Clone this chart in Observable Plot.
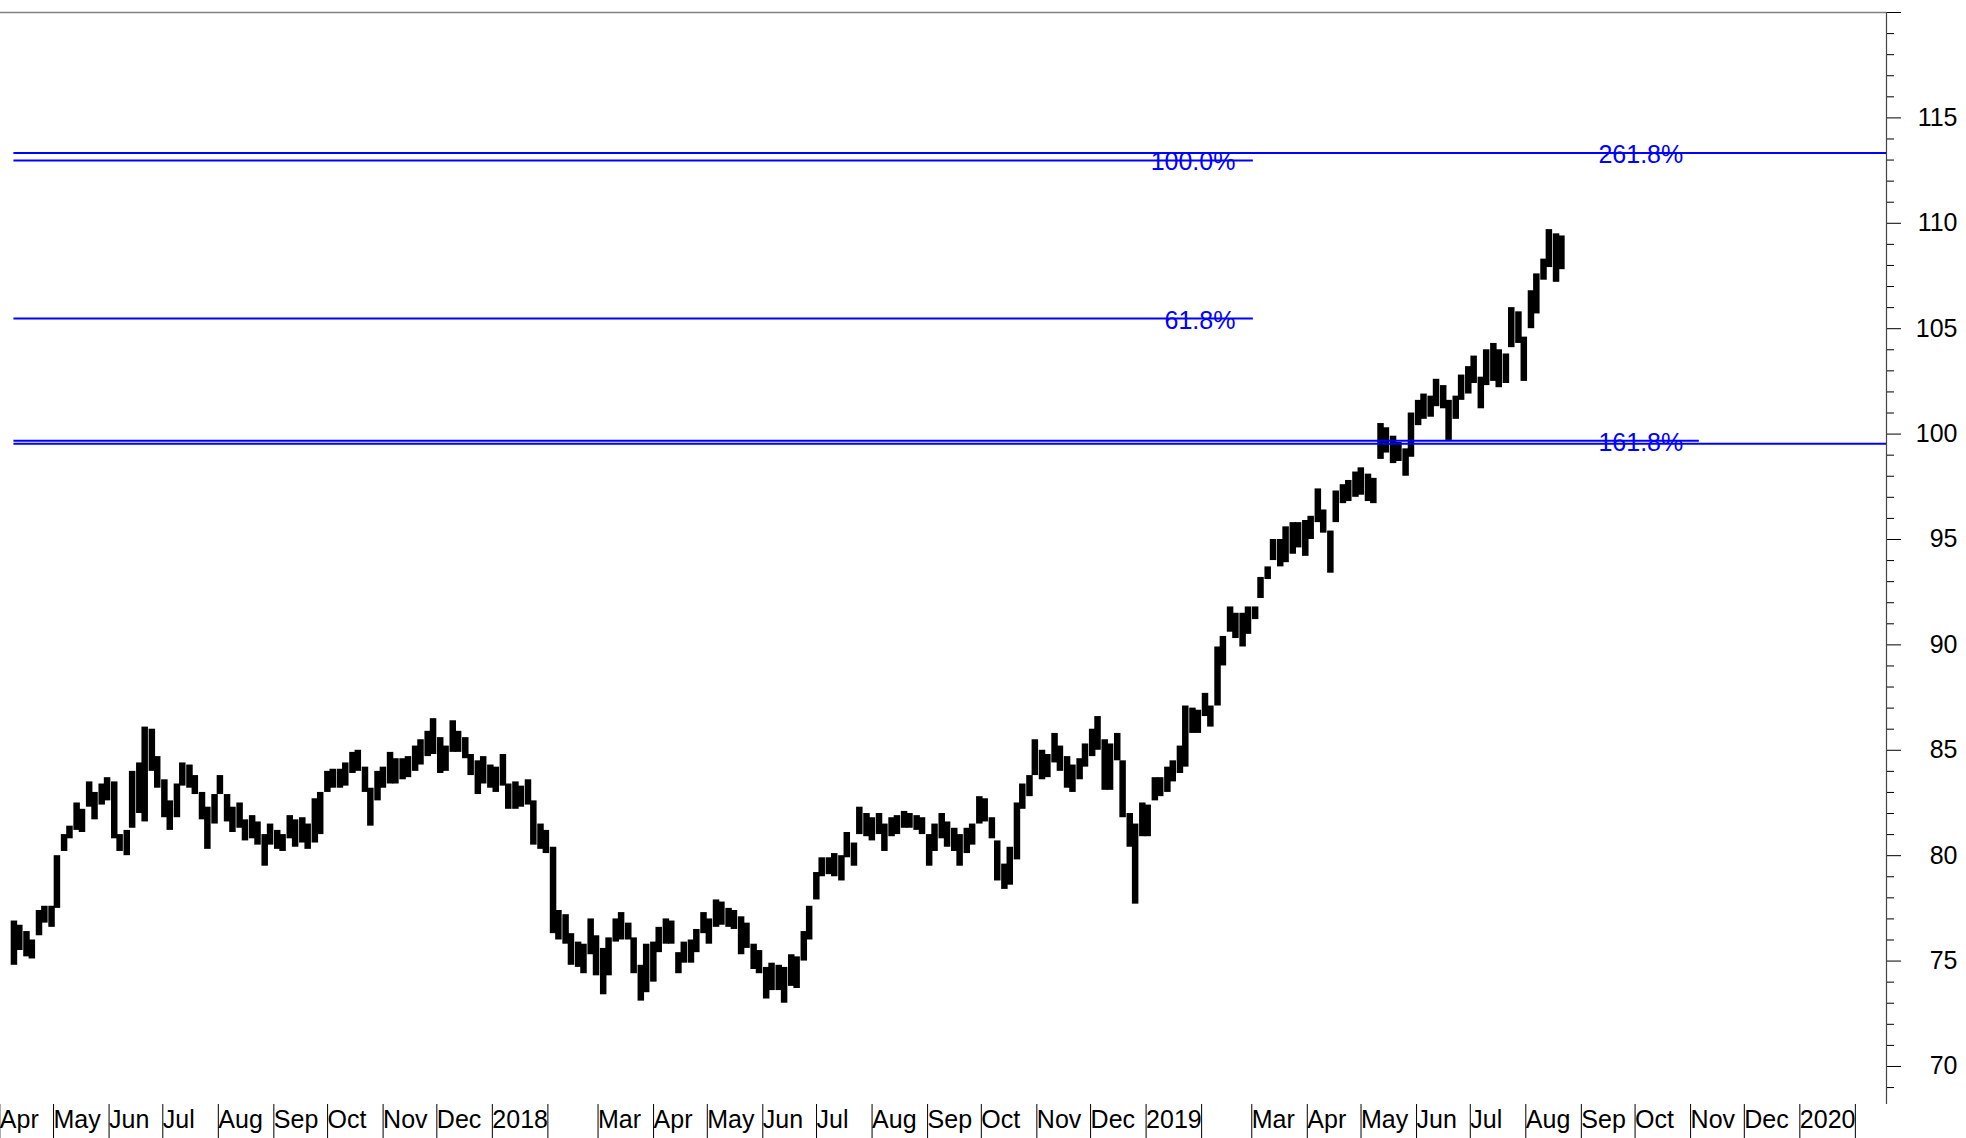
<!DOCTYPE html>
<html>
<head>
<meta charset="utf-8">
<script src="https://cdn.jsdelivr.net/npm/d3@7"></script>
<script src="https://cdn.jsdelivr.net/npm/@observablehq/plot@0.6"></script>
<style>
html, body { margin: 0; padding: 0; background: #fff; overflow: hidden; }
</style>
</head>
<body>
<div id="chart"></div>
<script>
// ---- Data ----
// Bars: two per week, on Monday and Thursday, starting Monday 2017-04-10
const firstMonday = "2017-04-10";
const high = [
  76.9,76.7, 76.4,76.0, 77.4,77.6, 77.6,80.0, 81.0,81.4, 82.5,82.2, 83.5,83.0, 83.4,83.7,
  83.5,81.0, 81.2,84.0, 84.4,86.1, 86.0,84.7, 83.6,82.6, 83.4,84.4, 84.3,83.8, 83.0,82.3,
  82.9,83.8, 82.9,82.3, 82.5,81.7, 81.9,81.6, 81.0,81.5, 81.2,81.0, 81.9,81.7, 81.8,81.5,
  82.7,83.0, 84.0,84.1, 84.1,84.4, 84.9,85.0, 84.2,83.2, 84.0,84.2, 84.9,84.6, 84.6,84.7,
  85.2,85.5, 85.9,86.5, 85.6,85.2, 86.4,85.9, 85.6,84.8, 84.5,84.7, 84.3,84.2, 84.8,83.4,
  83.5,83.3, 83.6,82.6, 81.5,81.2, 80.4,77.4, 77.2,76.3, 75.9,75.8, 77.0,76.2, 75.6,76.1,
  77.0,77.3, 76.8,76.1, 74.8,75.8, 75.9,76.6, 77.0,76.9, 75.4,75.9, 76.0,76.5, 77.3,77.0,
  77.9,77.8, 77.5,77.4, 77.1,76.8, 75.8,75.5, 74.7,74.9, 74.8,74.7, 75.3,75.2, 76.4,77.6,
  79.2,79.9, 79.9,80.1, 80.0,81.1, 80.6,82.3, 82.0,81.8, 82.0,81.5, 81.8,81.9, 82.1,82.0,
  81.9,81.8, 81.0,81.5, 82.0,81.6, 81.3,81.0, 81.3,81.5, 82.8,82.7, 81.8,80.7, 79.6,80.4,
  82.5,83.4, 83.8,85.5, 85.0,84.8, 85.8,85.2, 84.7,84.3, 84.6,85.3, 86.0,86.6, 85.5,85.3,
  85.8,84.5, 82.0,81.5, 82.5,82.4, 83.7,83.7, 84.2,84.5, 85.2,87.1, 87.0,86.9, 87.7,87.1,
  89.9,90.4, 91.8,91.5, 91.5,91.8, 91.8,93.2, 93.7,95.0, 95.0,95.6, 95.8,95.8, 95.9,96.1,
  97.4,96.4, 95.4,97.3, 97.6,97.8, 98.2,98.4, 98.1,97.9, 100.5,100.3, 99.9,99.6, 99.3,101.0,
  101.6,101.9, 101.8,102.6, 102.3,101.6, 101.8,102.8, 103.2,103.7, 102.7,104.0, 104.3,104.0, 103.8,106.0,
  105.8,104.6, 106.8,107.6, 108.3,109.7, 109.5,109.4
];
const low = [
  74.8,75.5, 75.2,75.1, 76.2,76.8, 76.6,77.5, 80.2,80.8, 81.2,81.1, 82.3,81.7, 82.4,82.6,
  80.8,80.2, 80.0,81.3, 82.0,81.6, 84.0,83.2, 81.8,81.2, 81.8,83.3, 83.2,82.9, 81.7,80.3,
  81.5,82.9, 81.6,81.1, 81.3,80.7, 80.8,80.5, 79.5,80.5, 80.3,80.2, 80.8,80.4, 80.6,80.3,
  80.6,81.0, 83.0,83.2, 83.2,83.3, 83.9,84.0, 83.0,81.4, 82.6,83.2, 83.4,83.4, 83.6,83.7,
  84.0,84.3, 84.7,84.8, 83.9,84.0, 84.9,84.9, 84.6,83.8, 82.9,83.4, 83.2,83.0, 83.3,82.2,
  82.2,82.3, 82.4,80.5, 80.3,80.1, 76.3,76.0, 75.8,74.8, 74.7,74.4, 75.3,74.3, 73.4,74.3,
  75.9,76.0, 76.0,74.4, 73.1,73.5, 74.0,75.4, 75.8,75.8, 74.4,74.9, 74.9,75.4, 76.3,75.8,
  76.6,76.7, 76.6,76.5, 75.3,75.6, 74.6,74.4, 73.2,73.6, 73.6,73.0, 73.8,73.7, 75.0,76.0,
  77.9,79.0, 79.1,79.0, 78.8,79.9, 79.5,81.0, 80.9,80.7, 81.0,80.2, 80.9,81.0, 81.3,81.3,
  81.2,81.0, 79.5,80.2, 80.8,80.4, 80.2,79.5, 80.1,80.5, 81.5,81.6, 80.8,78.8, 78.4,78.6,
  79.8,82.2, 82.8,83.8, 83.6,83.7, 84.4,84.0, 83.2,83.0, 83.6,84.2, 84.7,85.0, 83.1,83.1,
  84.5,81.8, 80.4,77.7, 80.9,80.9, 82.6,82.8, 83.0,83.5, 83.9,84.2, 85.8,85.8, 86.6,86.1,
  87.1,89.0, 90.6,90.3, 89.9,90.5, 91.2,92.2, 93.1,94.0, 93.7,93.9, 94.3,94.6, 94.2,95.0,
  95.8,95.3, 93.4,95.8, 96.7,96.8, 97.0,97.1, 96.8,96.7, 98.8,99.1, 98.6,98.7, 98.0,98.9,
  100.4,100.7, 100.8,101.3, 101.2,99.7, 100.7,101.6, 101.9,102.4, 101.2,102.3, 102.5,102.2, 102.4,104.1,
  104.3,102.5, 105.0,105.7, 107.3,107.9, 107.2,107.8
];

// Horizontal Fibonacci lines
const levelValues = [113.33, 112.98, 105.48, 99.54, 99.68];
const levelStarts = ["2017-04-10", "2017-04-10", "2017-04-10", "2017-04-10", "2017-04-10"];
const levelEnds   = ["2020-02-19T12:00Z", "2019-03-03", "2019-03-03", "2020-02-19T12:00Z", "2019-11-07"];
const levelLabels = ["261.8%", "100.0%", "61.8%", "", "161.8%"];
const levelLabelAt = ["2019-10-29", "2019-02-21", "2019-02-21", "2019-10-29", "2019-10-29"];

// Axis ticks
const monthTicks = [
  "2017-04-01","2017-05-01","2017-06-01","2017-07-01","2017-08-01","2017-09-01","2017-10-01","2017-11-01","2017-12-01",
  "2018-01-01","2018-02-01","2018-03-01","2018-04-01","2018-05-01","2018-06-01","2018-07-01","2018-08-01","2018-09-01","2018-10-01","2018-11-01","2018-12-01",
  "2019-01-01","2019-02-01","2019-03-01","2019-04-01","2019-05-01","2019-06-01","2019-07-01","2019-08-01","2019-09-01","2019-10-01","2019-11-01","2019-12-01",
  "2020-01-01","2020-02-01"
];
const monthLabels = [
  "Apr","May","Jun","Jul","Aug","Sep","Oct","Nov","Dec",
  "2018","","Mar","Apr","May","Jun","Jul","Aug","Sep","Oct","Nov","Dec",
  "2019","","Mar","Apr","May","Jun","Jul","Aug","Sep","Oct","Nov","Dec",
  "2020",""
];
const yMajorTicks = [70, 75, 80, 85, 90, 95, 100, 105, 110, 115, 120];
const yMajorLabels = ["70", "75", "80", "85", "90", "95", "100", "105", "110", "115", ""];
const yMinorTicks = [69,71,72,73,74,76,77,78,79,81,82,83,84,86,87,88,89,91,92,93,94,96,97,98,99,
  101,102,103,104,106,107,108,109,111,112,113,114,116,117,118,119];

// ---- Build tables ----
const start = new Date(firstMonday);
const bars = high.map((h, k) => ({
  date: d3.utcDay.offset(start, 7 * Math.floor(k / 2) + (k % 2 ? 3 : 0)),
  high: h,
  low: low[k]
}));
const levels = levelValues.map((v, i) => ({
  value: v,
  start: new Date(levelStarts[i]),
  end: new Date(levelEnds[i]),
  label: levelLabels[i],
  at: new Date(levelLabelAt[i])
}));
const tickDates = monthTicks.map(s => new Date(s));
const monthLabelMap = new Map(tickDates.map((d, i) => [+d, monthLabels[i]]));
const yLabelMap = new Map(yMajorTicks.map((v, i) => [v, yMajorLabels[i]]));

const xStart = new Date("2017-04-02T12:00Z");
const xEnd = new Date("2020-02-19T12:00Z");

const chart = Plot.plot({
  width: 1966,
  height: 1138,
  marginLeft: 0,
  marginRight: 80,
  marginTop: 12,
  marginBottom: 34,
  x: { type: "utc", domain: [xStart, xEnd], axis: null },
  y: { domain: [68.196, 120], axis: null },
  style: { fontFamily: "'Liberation Sans', Arial, sans-serif", fontSize: "25px", background: "#fff", color: "#000" },
  marks: [
    Plot.ruleY([120], { stroke: "#808080", strokeWidth: 1.5 }),
    Plot.ruleX([xEnd], { stroke: "#444", strokeWidth: 1.2 }),
    Plot.axisY({ anchor: "right", ticks: yMinorTicks, tickSize: 7, tickFormat: () => "", stroke: "#000" }),
    Plot.axisY({ anchor: "right", ticks: yMajorTicks, tickSize: 14, tickPadding: 57, textAnchor: "end",
      tickFormat: v => yLabelMap.get(v), fontSize: 25, stroke: "#000" }),
    Plot.axisX({ anchor: "bottom", ticks: tickDates, tickSize: 34, tickPadding: -28, textAnchor: "start", dx: 2,
      tickFormat: d => monthLabelMap.get(+d), fontSize: 25, stroke: "#000" }),
    Plot.ruleX(bars, { x: "date", y1: "low", y2: "high", stroke: "#000", strokeWidth: 6.5 }),
    Plot.ruleY(levels, { y: "value", x1: "start", x2: "end", stroke: "#0000ff", strokeWidth: 2 }),
    Plot.text(levels, { x: "at", y: "value", text: "label", textAnchor: "end", lineAnchor: "bottom", dy: 10,
      fill: "#0000ff", fontSize: 25 })
  ]
});
document.getElementById("chart").appendChild(chart);
</script>
</body>
</html>
